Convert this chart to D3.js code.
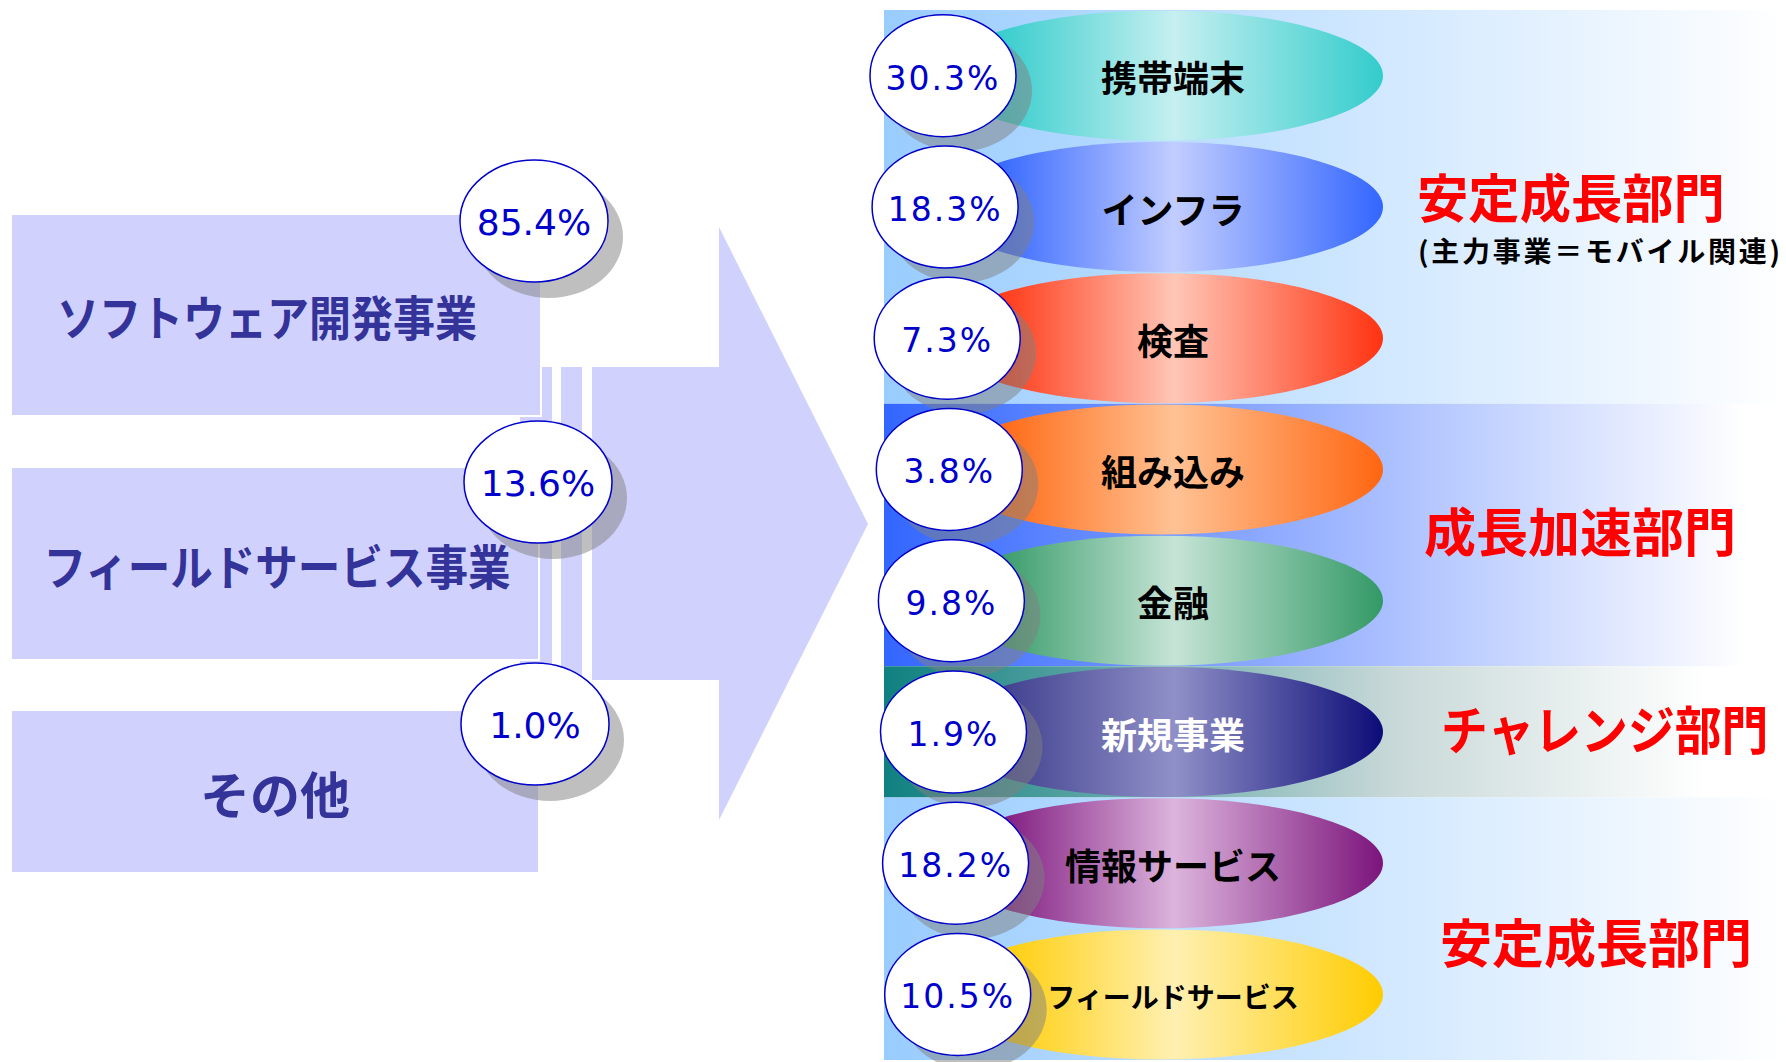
<!DOCTYPE html>
<html lang="ja">
<head>
<meta charset="utf-8">
<title>事業別売上構成</title>
<script src="https://cdn.jsdelivr.net/npm/d3@7"></script>
<style>
  html, body { margin: 0; padding: 0; background: #ffffff; }
  svg { display: block; }
</style>
</head>
<body>
<svg id="chart" width="1786" height="1062"></svg>
<script>
// ---- data -------------------------------------------------------------
const segmentNames  = ["ソフトウェア開発事業", "フィールドサービス事業", "その他"];
const segmentShares = [85.4, 13.6, 1.0];

const businessNames  = ["携帯端末", "インフラ", "検査", "組み込み", "金融", "新規事業", "情報サービス", "フィールドサービス"];
const businessShares = [30.3, 18.3, 7.3, 3.8, 9.8, 1.9, 18.2, 10.5];

const divisionNames = ["安定成長部門", "成長加速部門", "チャレンジ部門", "安定成長部門"];
const divisionSizes = [3, 2, 1, 2];          // number of businesses in each division
const divisionNote  = "(主力事業＝モバイル関連)";

// ---- styles -----------------------------------------------------------
const lavender = "#d1d1fd";
const segmentText = "#333399";
const pctColor = "#0000cc";
const jpFont = "'Noto Sans CJK JP', 'Noto Sans', sans-serif";
const numFont = "'DejaVu Sans', sans-serif";

const businessColors = [
  { left: "#33cccc", edge: "#33cccc", light: "#c6eff0" },
  { left: "#3366ff", edge: "#3366ff", light: "#c2cdff" },
  { left: "#ff3311", edge: "#ff3311", light: "#ffc6b6" },
  { left: "#ff6611", edge: "#ff6611", light: "#ffc294" },
  { left: "#339966", edge: "#339966", light: "#c6e4d6" },
  { left: "#3c3c8c", edge: "#0c0c78", light: "#9090c8" },
  { left: "#7c147c", edge: "#7c147c", light: "#dcb4dc" },
  { left: "#ffcc00", edge: "#ffcc00", light: "#fff0b2" }
];
const businessLabelColors = ["#000", "#000", "#000", "#000", "#000", "#fff", "#000", "#000"];
const businessLabelSizes  = [36, 36, 36, 36, 36, 36, 36, 28];

const divisionColors = ["#99ccff", "#3366ff", "#108080", "#99ccff"];
const divisionMid    = [null, null, "#c8d8d8", null];
const divisionRight  = [1786, 1745, 1705, 1786];
const divisionLabelX = [1417, 1424, 1441, 1440];
const divisionLabelDy = [-9, -3, -2, 14];
const divisionLabelW = [308, 316, 328, 315];
const divisionFont = 52;

const svg = d3.select("#chart");
const defs = svg.append("defs");

// ---- left: segment boxes feeding the arrow ----------------------------
const left = svg.append("g");

// box extents per segment (top, bottom, right edge)
const boxLayout = [
  { y0: 214, y1: 416, x1: 541 },
  { y0: 467, y1: 660, x1: 539 },
  { y0: 710, y1: 873, x1: 539 }
];
const boxX0 = 11;

// big arrow: body plus head
const arrowPath = d3.path();
arrowPath.moveTo(520, 367);
arrowPath.lineTo(719, 367);
arrowPath.lineTo(719, 227);
arrowPath.lineTo(868, 524);
arrowPath.lineTo(719, 820);
arrowPath.lineTo(719, 680);
arrowPath.lineTo(520, 680);
arrowPath.closePath();
left.append("path").attr("d", arrowPath.toString()).attr("fill", lavender);

// thin white separators inside the arrow body
[[552, 561], [582, 592]].forEach(([a, b]) => {
  left.append("rect").attr("x", a).attr("y", 367).attr("width", b - a).attr("height", 313).attr("fill", "#fff");
});

left.selectAll("rect.box")
  .data(segmentNames)
  .join("rect")
  .attr("class", "box")
  .attr("x", boxX0)
  .attr("y", (d, i) => boxLayout[i].y0)
  .attr("width", (d, i) => boxLayout[i].x1 - boxX0)
  .attr("height", (d, i) => boxLayout[i].y1 - boxLayout[i].y0)
  .attr("fill", lavender)
  .attr("stroke", "#fff")
  .attr("stroke-width", 2);

// segment names, horizontally condensed like a narrow gothic face
const segLabelSize = [48, 48, 50];
const segLabelCx = [267, 277, 275];
const segLabelW = [420, 468, 152];
left.selectAll("text.seg")
  .data(segmentNames)
  .join("text")
  .attr("class", "seg")
  .attr("transform", (d, i) => {
    const natural = segLabelSize[i] * d.length;
    const sx = Math.min(1, segLabelW[i] / natural);
    const ty = (boxLayout[i].y0 + boxLayout[i].y1) / 2 + 3 + 0.38 * segLabelSize[i];
    return `translate(${segLabelCx[i]},${ty}) scale(${sx},1)`;
  })
  .attr("text-anchor", "middle")
  .attr("font-family", jpFont)
  .attr("font-weight", 700)
  .attr("font-size", (d, i) => segLabelSize[i])
  .attr("fill", segmentText)
  .text(d => d);

// share badges on the segments
const segBadge = segmentNames.map((d, i) => ({
  name: d,
  share: segmentShares[i],
  cx: [534, 538, 535][i],
  cy: [221, 482, 724][i]
}));
const fmt = d3.format(".1f");

left.selectAll("ellipse.shadow")
  .data(segBadge)
  .join("ellipse")
  .attr("class", "shadow")
  .attr("cx", d => d.cx + 15).attr("cy", d => d.cy + 16)
  .attr("rx", 74).attr("ry", 61)
  .attr("fill", "#808080").attr("fill-opacity", 0.5);

left.selectAll("ellipse.badge")
  .data(segBadge)
  .join("ellipse")
  .attr("class", "badge")
  .attr("cx", d => d.cx).attr("cy", d => d.cy)
  .attr("rx", 74).attr("ry", 61)
  .attr("fill", "#fff").attr("stroke", pctColor).attr("stroke-width", 1.5);

left.selectAll("text.pct")
  .data(segBadge)
  .join("text")
  .attr("class", "pct")
  .attr("x", d => d.cx)
  .attr("y", d => d.cy + 1 + 0.365 * 36)
  .attr("text-anchor", "middle")
  .attr("font-family", numFont)
  .attr("font-size", 36)
  .attr("fill", pctColor)
  .text(d => fmt(d.share) + "%");

// ---- right: businesses grouped by division ----------------------------
const right = svg.append("g");
const y = d3.scaleBand().domain(businessNames).range([10, 1060]).paddingInner(0).paddingOuter(0);
const bandX0 = 884;

// division bands (fading to white)
let start = 0;
const divisions = divisionNames.map((name, i) => {
  const members = businessNames.slice(start, start + divisionSizes[i]);
  start += divisionSizes[i];
  const y0 = y(members[0]);
  const y1 = y(members[members.length - 1]) + y.bandwidth();
  return { name, i, y0, y1 };
});

divisions.forEach(dv => {
  const g = defs.append("linearGradient")
    .attr("id", "band" + dv.i)
    .attr("x1", 0).attr("x2", 1).attr("y1", 0).attr("y2", 0);
  g.append("stop").attr("offset", 0).attr("stop-color", divisionColors[dv.i]);
  if (divisionMid[dv.i]) g.append("stop").attr("offset", 0.62).attr("stop-color", divisionMid[dv.i]);
  g.append("stop").attr("offset", 1).attr("stop-color", "#ffffff");
});

right.selectAll("rect.band")
  .data(divisions)
  .join("rect")
  .attr("class", "band")
  .attr("x", bandX0)
  .attr("y", d => d.y0)
  .attr("width", d => divisionRight[d.i] - bandX0)
  .attr("height", d => d.y1 - d.y0)
  .attr("fill", d => `url(#band${d.i})`);

// business ellipses with a horizontal edge-light-edge gradient
businessColors.forEach((c, i) => {
  const g = defs.append("linearGradient")
    .attr("id", "biz" + i)
    .attr("x1", 0).attr("x2", 1).attr("y1", 0).attr("y2", 0);
  g.append("stop").attr("offset", 0.12).attr("stop-color", c.left);
  g.append("stop").attr("offset", 0.53).attr("stop-color", c.light);
  g.append("stop").attr("offset", 1).attr("stop-color", c.edge);
});

const ellCx = 1161, ellRx = 222, ellRy = 65;
right.selectAll("ellipse.biz")
  .data(businessNames)
  .join("ellipse")
  .attr("class", "biz")
  .attr("cx", ellCx)
  .attr("cy", d => y(d) + y.bandwidth() / 2)
  .attr("rx", ellRx)
  .attr("ry", ellRy)
  .attr("fill", (d, i) => `url(#biz${i})`);

right.selectAll("text.biz")
  .data(businessNames)
  .join("text")
  .attr("class", "biz")
  .attr("x", 1173)
  .attr("y", (d, i) => y(d) + y.bandwidth() / 2 + 3 + 0.38 * businessLabelSizes[i])
  .attr("text-anchor", "middle")
  .attr("font-family", jpFont)
  .attr("font-weight", 700)
  .attr("font-size", (d, i) => businessLabelSizes[i])
  .attr("fill", (d, i) => businessLabelColors[i])
  .text(d => d);

// share badges on the businesses
const bizBadge = businessNames.map((d, i) => ({
  name: d,
  share: businessShares[i],
  cx: 943 + i * 2.1,
  cy: y(d) + y.bandwidth() / 2
}));

right.selectAll("ellipse.shadow")
  .data(bizBadge)
  .join("ellipse")
  .attr("class", "shadow")
  .attr("cx", d => d.cx + 16).attr("cy", d => d.cy + 15)
  .attr("rx", 73).attr("ry", 61)
  .attr("fill", "#808080").attr("fill-opacity", 0.5);

right.selectAll("ellipse.badge")
  .data(bizBadge)
  .join("ellipse")
  .attr("class", "badge")
  .attr("cx", d => d.cx).attr("cy", d => d.cy)
  .attr("rx", 73).attr("ry", 61)
  .attr("fill", "#fff").attr("stroke", pctColor).attr("stroke-width", 1.5);

right.selectAll("text.pct")
  .data(bizBadge)
  .join("text")
  .attr("class", "pct")
  .attr("x", d => d.cx)
  .attr("y", d => d.cy + 2 + 0.365 * 33)
  .attr("text-anchor", "middle")
  .attr("font-family", numFont)
  .attr("font-size", 33)
  .attr("letter-spacing", 2)
  .attr("fill", pctColor)
  .text(d => fmt(d.share) + "%");

// division titles (narrowed to their set width where needed)
right.selectAll("text.division")
  .data(divisions)
  .join("text")
  .attr("class", "division")
  .attr("transform", d => {
    const natural = divisionFont * d.name.length;
    const sx = Math.min(1, divisionLabelW[d.i] / natural);
    const ty = (d.y0 + d.y1) / 2 + divisionLabelDy[d.i] + 0.38 * divisionFont;
    return `translate(${divisionLabelX[d.i]},${ty}) scale(${sx},1)`;
  })
  .attr("font-family", jpFont)
  .attr("font-weight", 700)
  .attr("font-size", divisionFont)
  .attr("fill", "#ff0000")
  .text(d => d.name);

right.append("text")
  .attr("x", 1418)
  .attr("y", 251 + 0.38 * 28)
  .attr("font-family", jpFont)
  .attr("font-weight", 700)
  .attr("font-size", 28)
  .attr("fill", "#000")
  .attr("textLength", 362)
  .attr("lengthAdjust", "spacing")
  .text(divisionNote);
</script>
</body>
</html>
